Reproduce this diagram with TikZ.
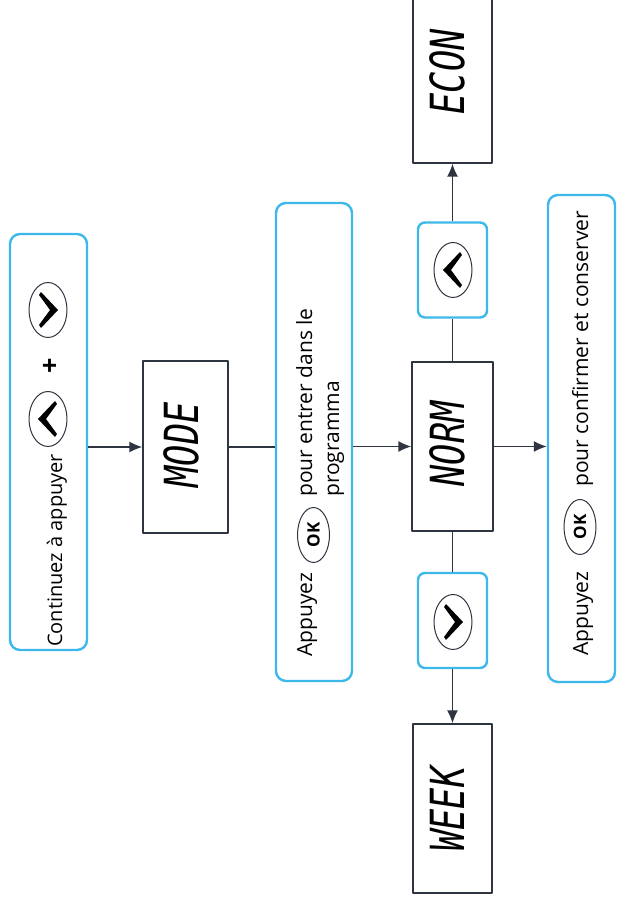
\documentclass[tikz,border=0pt]{standalone}
\usepackage{fontspec}
\setmainfont{Open Sans}
\newfontfamily\lcdfont{DejaVu Sans Mono}
\usetikzlibrary{shapes.geometric,arrows.meta}
\definecolor{cyanline}{HTML}{3DB8EA}
\definecolor{frameline}{HTML}{2E3440}
\tikzset{
  bluebox/.style={draw=cyanline,line width=2.4bp,rounded corners=10bp,inner sep=0pt},
  lcdbox/.style={draw=frameline,line width=1.4bp,inner sep=0pt},
  btn/.style={draw=frameline,ellipse,line width=1bp,inner sep=0pt,minimum width=38bp,minimum height=55bp},
  okbtn/.style={draw=frameline,ellipse,line width=1bp,inner sep=0pt,rotate=90,minimum width=55bp,minimum height=32bp,font=\bfseries\fontsize{17bp}{19bp}\selectfont},
  lbl/.style={rotate=90,inner sep=0pt,anchor=base west,font=\fontsize{21bp}{25bp}\selectfont},
  lcd/.style={rotate=90,xscale=0.75,inner sep=0pt,font=\lcdfont\itshape\fontsize{47bp}{50bp}\selectfont},
  chevleft/.pic={\fill (7bp,18bp) -- (-10bp,0bp) -- (7bp,-18bp) -- (9bp,-15bp) -- (-2bp,0bp) -- (9bp,15bp) -- cycle;},
  chevright/.pic={\fill (-7bp,18bp) -- (10bp,0bp) -- (-7bp,-18bp) -- (-9bp,-15bp) -- (2bp,0bp) -- (-9bp,15bp) -- cycle;},
}
\begin{document}
\begin{tikzpicture}[>={Latex[length=13bp,width=11bp]},line join=bevel,]
\useasboundingbox (0bp,0bp) rectangle (617bp,903bp);
%% boxes
\node (node_0) at (48.5bp,461bp) [bluebox,minimum width=77bp,minimum height=416bp] {};
  \node (node_1) at (185.5bp,456bp) [lcdbox,minimum width=85bp,minimum height=172bp] {};
  \node (node_2) at (314bp,461bp) [bluebox,minimum width=76bp,minimum height=478bp] {};
  \node (node_3) at (452.5bp,456.5bp) [lcdbox,minimum width=81bp,minimum height=169bp] {};
  \node (node_4) at (452.5bp,633bp) [bluebox,rounded corners=7bp,minimum width=69bp,minimum height=95bp] {};
  \node (node_5) at (452.5bp,823bp) [lcdbox,minimum width=79bp,minimum height=166bp] {};
  \node (node_6) at (581.5bp,464.5bp) [bluebox,minimum width=67bp,minimum height=487bp] {};
  \node (node_7) at (452.5bp,282.5bp) [bluebox,rounded corners=7bp,minimum width=69bp,minimum height=95bp] {};
  \node (node_8) at (452.5bp,94.5bp) [lcdbox,minimum width=79bp,minimum height=169bp] {};
%% box contents
\node (txt_0) at (62bp,256bp) [lbl,font=\fontsize{20bp}{24bp}\selectfont] {Continuez à appuyer};
  \node (btn_0) at (48bp,484bp) [btn] {};
  \pic at (btn_0) {chevleft};
  \node (plus_0) at (51bp,537bp) [rotate=90,font=\bfseries\fontsize{27bp}{29bp}\selectfont] {+};
  \node (btn_1) at (48bp,593bp) [btn] {};
  \pic at (btn_1) {chevright};
%
\node (lcd_0) at (181bp,458bp) [lcd] {MODE};
%
\node (txt_1) at (312bp,246bp) [lbl] {Appuyez};
  \node (ok_0) at (313.5bp,368bp) [okbtn] {OK};
  \node (txt_2) at (312bp,406bp) [lbl] {pour entrer dans le};
  \node (txt_3) at (339bp,406bp) [lbl] {programma};
%
\node (lcd_1) at (447bp,459bp) [lcd] {NORM};
  \node (btn_2) at (453bp,633bp) [btn] {};
  \pic at (btn_2) {chevleft};
  \node (lcd_2) at (447bp,831bp) [lcd] {ECON};
  \node (btn_3) at (453bp,281bp) [btn] {};
  \pic at (btn_3) {chevright};
  \node (lcd_3) at (447bp,94bp) [lcd] {WEEK};
%
\node (txt_4) at (588bp,247bp) [lbl] {Appuyez};
  \node (ok_1) at (580bp,376bp) [okbtn] {OK};
  \node (txt_5) at (588bp,416bp) [lbl] {pour confirmer et conserver};
%% connectors
\draw [frameline,line width=1.4bp,->] (node_0.east |- node_1) -- (node_1);
  \draw [frameline,line width=1.4bp] (node_1) -- (node_1 -| node_2.west);
  \draw [frameline,line width=1.4bp,->] (node_2.east |- node_3) -- (node_3);
  \draw [frameline,line width=1.4bp,->] (node_3) -- (node_3 -| node_6.west);
  \draw [frameline,line width=1.4bp] (node_3) -- (node_4);
  \draw [frameline,line width=1.4bp,->] (node_4) -- (node_5);
  \draw [frameline,line width=1.4bp] (node_3) -- (node_7);
  \draw [frameline,line width=1.4bp,->] (node_7) -- (node_8);
%
\end{tikzpicture}
\end{document}
